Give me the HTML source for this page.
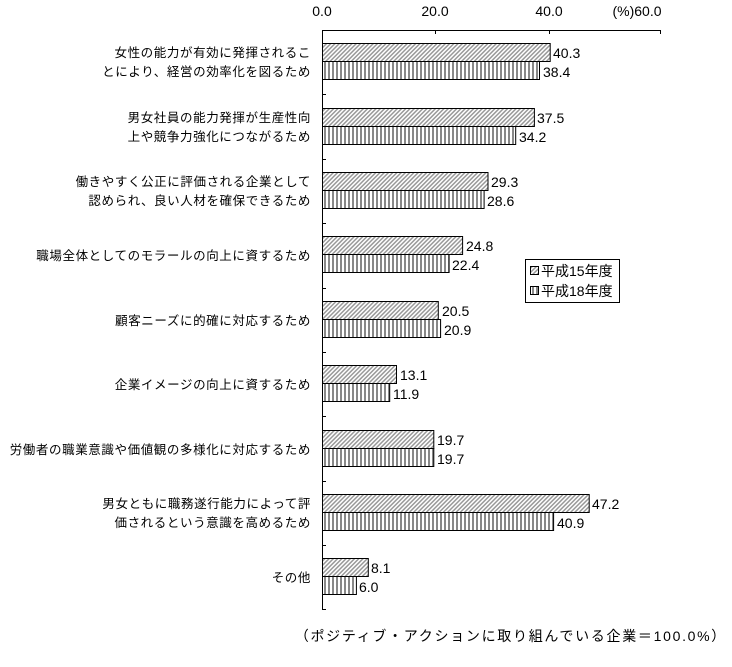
<!DOCTYPE html>
<html><head><meta charset="utf-8"><style>
body{margin:0;background:#fff}
svg text{font-family:"Liberation Sans","Noto Sans CJK JP",sans-serif;font-size:13px;fill:#000}
.l{text-anchor:end;letter-spacing:0.6px;font-size:12.5px}
.v{font-size:14px}
</style></head><body>
<svg width="732" height="662" xmlns="http://www.w3.org/2000/svg">
<defs>
<pattern id="d" width="3" height="3" patternUnits="userSpaceOnUse" patternTransform="rotate(45)">
<rect width="3" height="3" fill="#fff"/><rect width="1.5" height="3" fill="#999"/></pattern>
<pattern id="v" width="4" height="4" patternUnits="userSpaceOnUse">
<rect width="4" height="4" fill="#fff"/><rect width="2" height="4" fill="#888"/></pattern>
</defs>
<g text-anchor="middle" style="font-size:14px">
<text class="v" x="322" y="16">0.0</text><text class="v" x="435" y="16">20.0</text><text class="v" x="549" y="16">40.0</text><text class="v" x="637" y="16">(%)60.0</text>
</g>
<g stroke="#000">
<line x1="322.5" y1="30.5" x2="661" y2="30.5"/>
<line x1="435.5" y1="30" x2="435.5" y2="34"/>
<line x1="549.5" y1="30" x2="549.5" y2="34"/>
<line x1="660.5" y1="30" x2="660.5" y2="34"/>
<line x1="322.5" y1="30" x2="322.5" y2="610"/>
<line x1="322" y1="94.5" x2="326" y2="94.5"/>
<line x1="322" y1="159.5" x2="326" y2="159.5"/>
<line x1="322" y1="223.5" x2="326" y2="223.5"/>
<line x1="322" y1="288.5" x2="326" y2="288.5"/>
<line x1="322" y1="352.5" x2="326" y2="352.5"/>
<line x1="322" y1="416.5" x2="326" y2="416.5"/>
<line x1="322" y1="481.5" x2="326" y2="481.5"/>
<line x1="322" y1="545.5" x2="326" y2="545.5"/>
<line x1="322" y1="609.5" x2="326" y2="609.5"/>
</g>
<g stroke="#000">
<rect x="322.5" y="43.5" width="227.7" height="18" fill="url(#d)"/><rect x="322.5" y="61.5" width="217" height="18" fill="url(#v)"/>
<rect x="322.5" y="108.5" width="211.9" height="18" fill="url(#d)"/><rect x="322.5" y="126.5" width="193.2" height="18" fill="url(#v)"/>
<rect x="322.5" y="172.5" width="165.5" height="18" fill="url(#d)"/><rect x="322.5" y="190.5" width="161.6" height="18" fill="url(#v)"/>
<rect x="322.5" y="236.5" width="140.1" height="18" fill="url(#d)"/><rect x="322.5" y="254.5" width="126.6" height="18" fill="url(#v)"/>
<rect x="322.5" y="301.5" width="115.8" height="18" fill="url(#d)"/><rect x="322.5" y="319.5" width="118.1" height="18" fill="url(#v)"/>
<rect x="322.5" y="365.5" width="74" height="18" fill="url(#d)"/><rect x="322.5" y="383.5" width="67.2" height="18" fill="url(#v)"/>
<rect x="322.5" y="430.5" width="111.3" height="18" fill="url(#d)"/><rect x="322.5" y="448.5" width="111.3" height="18" fill="url(#v)"/>
<rect x="322.5" y="494.5" width="266.7" height="18" fill="url(#d)"/><rect x="322.5" y="512.5" width="231.1" height="18" fill="url(#v)"/>
<rect x="322.5" y="558.5" width="45.8" height="18" fill="url(#d)"/><rect x="322.5" y="576.5" width="33.9" height="18" fill="url(#v)"/>
</g>
<g class="v">
<text class="v" x="553" y="58">40.3</text><text class="v" x="543" y="77">38.4</text>
<text class="v" x="537" y="123">37.5</text><text class="v" x="519" y="142">34.2</text>
<text class="v" x="491" y="187">29.3</text><text class="v" x="487" y="206">28.6</text>
<text class="v" x="466" y="251">24.8</text><text class="v" x="452" y="270">22.4</text>
<text class="v" x="442" y="316">20.5</text><text class="v" x="444" y="335">20.9</text>
<text class="v" x="400" y="380">13.1</text><text class="v" x="393" y="399">11.9</text>
<text class="v" x="437" y="445">19.7</text><text class="v" x="437" y="464">19.7</text>
<text class="v" x="592" y="509">47.2</text><text class="v" x="557" y="528">40.9</text>
<text class="v" x="371" y="573">8.1</text><text class="v" x="359" y="592">6.0</text>
</g>
<text class="l" x="311" y="57">女性の能力が有効に発揮されるこ</text>
<text class="l" x="311" y="76">とにより、経営の効率化を図るため</text>
<text class="l" x="311" y="122">男女社員の能力発揮が生産性向</text>
<text class="l" x="311" y="141">上や競争力強化につながるため</text>
<text class="l" x="311" y="186">働きやすく公正に評価される企業として</text>
<text class="l" x="311" y="205">認められ、良い人材を確保できるため</text>
<text class="l" x="311" y="260">職場全体としてのモラールの向上に資するため</text>
<text class="l" x="311" y="325">顧客ニーズに的確に対応するため</text>
<text class="l" x="311" y="389">企業イメージの向上に資するため</text>
<text class="l" x="311" y="454">労働者の職業意識や価値観の多様化に対応するため</text>
<text class="l" x="311" y="508">男女ともに職務遂行能力によって評</text>
<text class="l" x="311" y="527">価されるという意識を高めるため</text>
<text class="l" x="311" y="582">その他</text>
<rect x="525.5" y="259.5" width="94" height="43" fill="#fff" stroke="#000"/>
<rect x="530.5" y="266.5" width="8" height="8" fill="url(#d)" stroke="#000"/>
<rect x="530.5" y="286.5" width="8" height="8" fill="url(#v)" stroke="#000"/>
<text class="v" x="541" y="276">平成15年度</text>
<text class="v" x="541" y="296">平成18年度</text>
<text class="v" x="727" y="641" text-anchor="end" letter-spacing="1.7">（ポジティブ・アクションに取り組んでいる企業＝100.0%）</text>
</svg>
</body></html>
